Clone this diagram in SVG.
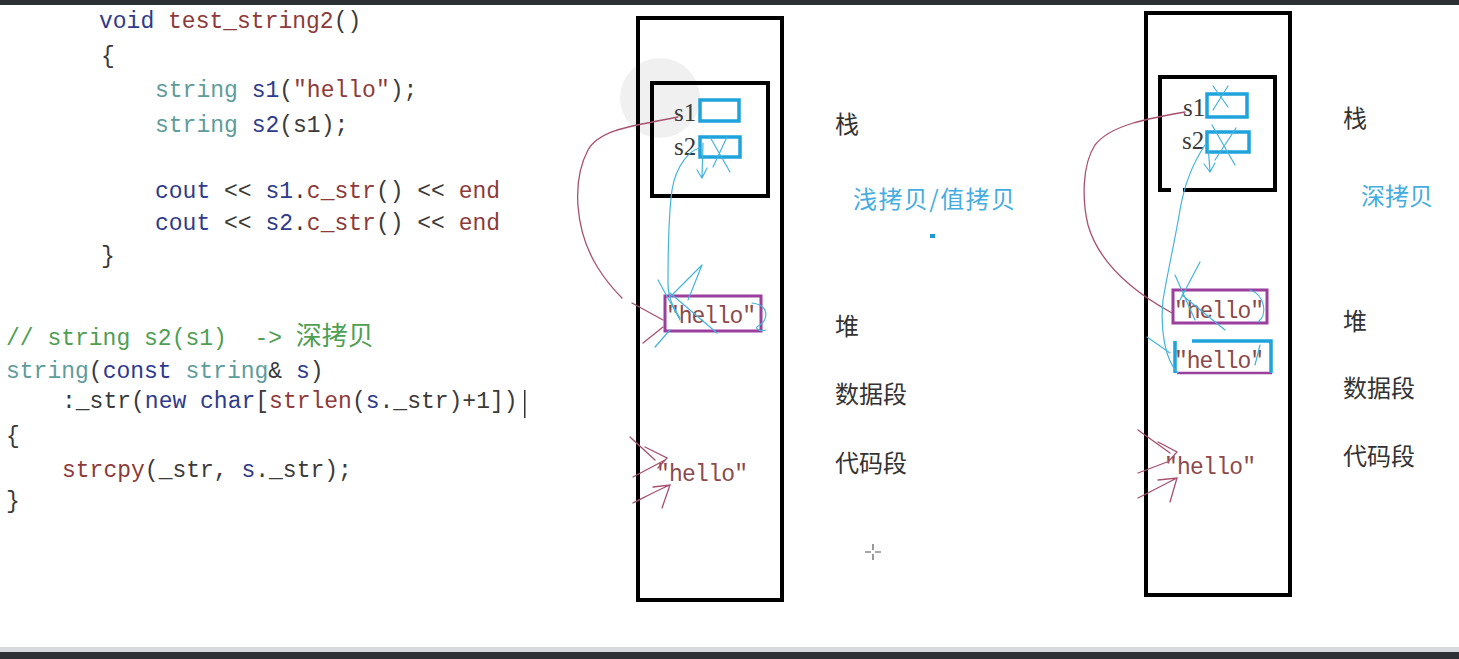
<svg xmlns="http://www.w3.org/2000/svg" width="1459" height="659" viewBox="0 0 1459 659">
<defs>
<style>
.code{font-family:"Liberation Mono","DejaVu Sans Mono",monospace;font-size:23px;fill:#3a3a3a;white-space:pre}
.kw{fill:#2e3a8c}
.fn{fill:#8c3a3a}
.ty{fill:#5e9c9c}
.cm{fill:#4f9e52}
.lbl{font-family:"Noto Sans CJK SC",sans-serif;font-size:24px;fill:#333}
.cy{font-family:"Noto Sans CJK SC",sans-serif;font-size:24px;fill:#45ade0}
.var{font-family:"Liberation Serif","Noto Sans CJK SC",serif;font-size:25px;fill:#3a3a3a}
.str{font-family:"Liberation Mono",monospace;font-size:23px;fill:#8c4a4a}
.frame{fill:none;stroke:#000;stroke-width:4}
.cell{fill:none;stroke:#1fa3dc;stroke-width:3.5}
.heap{fill:none;stroke:#9a3f9e;stroke-width:3}
.mar{fill:none;stroke:#a8506e;stroke-width:1.3;stroke-linecap:round}
.cyl{fill:none;stroke:#44b4dc;stroke-width:1.2;stroke-linecap:round}
</style>
</defs>
<rect width="1459" height="659" fill="#fff"/>
<rect x="0" y="0" width="1459" height="5" fill="#2d3136"/>
<rect x="0" y="647" width="1459" height="5" fill="#d8dbde"/>
<rect x="0" y="652" width="1459" height="7" fill="#2d3136"/>

<g id="code">
<text class="code" x="99" y="28"><tspan class="kw">void</tspan> <tspan class="fn">test_string2</tspan>()</text>
<text class="code" x="101" y="63">{</text>
<text class="code" x="155" y="97"><tspan class="ty">string</tspan> <tspan class="kw">s1</tspan>(<tspan class="fn">"hello"</tspan>);</text>
<text class="code" x="155" y="132"><tspan class="ty">string</tspan> <tspan class="kw">s2</tspan>(s1);</text>
<text class="code" x="155" y="198"><tspan class="kw">cout</tspan> &lt;&lt; <tspan class="kw">s1</tspan>.<tspan class="fn">c_str</tspan>() &lt;&lt; <tspan class="fn">end</tspan></text>
<text class="code" x="155" y="230"><tspan class="kw">cout</tspan> &lt;&lt; <tspan class="kw">s2</tspan>.<tspan class="fn">c_str</tspan>() &lt;&lt; <tspan class="fn">end</tspan></text>
<text class="code" x="101" y="263">}</text>
<text class="code cm" x="6" y="345" xml:space="preserve">// string s2(s1)  -&gt; <tspan font-family="Noto Sans CJK SC,sans-serif" font-size="26">深拷贝</tspan></text>
<text class="code" x="6" y="378"><tspan class="ty">string</tspan>(<tspan class="kw">const</tspan> <tspan class="ty">string</tspan>&amp; <tspan class="kw">s</tspan>)</text>
<text class="code" x="62" y="408">:_str(<tspan class="kw">new</tspan> <tspan class="kw">char</tspan>[<tspan class="fn">strlen</tspan>(<tspan class="kw">s</tspan>._str)+1])</text>
<rect x="524" y="390" width="1.5" height="28" fill="#333"/>
<text class="code" x="6" y="443">{</text>
<text class="code" x="62" y="477"><tspan class="fn">strcpy</tspan>(_str, <tspan class="kw">s</tspan>._str);</text>
<text class="code" x="6" y="508">}</text>
</g>

<g id="left-memory">
<circle cx="660" cy="98" r="40" fill="#000" fill-opacity="0.06"/>
<rect class="frame" x="638" y="18" width="144" height="582"/>
<rect class="frame" x="652" y="83" width="116" height="113"/>
<text class="var" x="674" y="121">s1</text>
<rect class="cell" x="700" y="100" width="39" height="21"/>
<text class="var" x="674" y="155">s2</text>
<rect class="cell" x="700" y="137" width="40" height="20"/>
<rect class="heap" x="665" y="296" width="96" height="35"/>
<text class="str" x="666" y="323" textLength="90">"hello"</text>
<text class="str" x="656" y="481" textLength="92">"hello"</text>
</g>
<g id="left-labels">
<text class="lbl" x="835" y="133">栈</text>
<text class="cy" x="853" y="208" textLength="162">浅拷贝/值拷贝</text>
<rect x="930" y="234" width="5" height="4" fill="#1f9ad6"/>
<text class="lbl" x="835" y="335">堆</text>
<text class="lbl" x="835" y="403">数据段</text>
<text class="lbl" x="835" y="472">代码段</text>
<path d="M873,544 V550 M873,554 V560 M865,552 H871 M875,552 H881" stroke="#555" stroke-width="1.2" fill="none"/>
</g>

<g id="right-memory">
<rect class="frame" x="1146" y="13" width="144" height="582"/>
<path class="frame" d="M1171,190 H1160 V77 H1275 V190 H1183"/>
<text class="var" x="1183" y="116">s1</text>
<rect class="cell" x="1207" y="94" width="40" height="23"/>
<text class="var" x="1182" y="149">s2</text>
<rect class="cell" x="1207" y="132" width="42" height="20"/>
<rect class="heap" x="1173" y="290" width="94" height="33"/>
<text class="str" x="1174" y="318" textLength="90">"hello"</text>
<path d="M1177,373 H1272" fill="none" stroke="#9a3f9e" stroke-width="2.5"/>
<path class="cell" d="M1192,341 H1271 V373 M1175,341 V373"/>
<text class="str" x="1174" y="368" textLength="90">"hello"</text>
<text class="str" x="1164" y="474" textLength="92">"hello"</text>
</g>
<g id="right-labels">
<text class="lbl" x="1343" y="127">栈</text>
<text class="cy" x="1361" y="205">深拷贝</text>
<text class="lbl" x="1343" y="330">堆</text>
<text class="lbl" x="1343" y="397">数据段</text>
<text class="lbl" x="1343" y="465">代码段</text>
</g>

<g id="connectors">
<path class="mar" d="M678,117 C640,125 600,128 588,150 C572,180 574,230 598,268 C608,284 616,292 622,298"/>
<path class="mar" d="M632,303 L663,320 M643,343 L663,327"/>
<path class="mar" d="M630,437 L655,460 M645,447 L667,458 L658,468 M633,477 L665,460 M633,503 C645,497 658,490 670,485 M653,487 L670,485 L662,508"/>
<path class="cyl" d="M700,148 C690,150 676,165 672,190 C668,220 668,260 668,283 C668,300 675,310 680,318"/>
<path class="cyl" d="M703,143 L702,178 M697,170 L702,178 L707,168 M710,137 L730,172 M727,137 L713,167"/>
<path class="cyl" d="M658,280 L680,320 M702,265 L670,297 M702,265 L688,300 M670,293 L717,333 M655,347 L670,330 M752,303 C770,305 768,320 760,325 C752,328 760,332 766,330"/>
<path class="mar" d="M1185,112 C1150,118 1110,125 1095,145 C1082,165 1082,200 1088,225 C1098,260 1130,290 1172,313"/>
<path class="mar" d="M1138,430 L1170,453 M1158,442 L1177,452 L1168,462 M1138,473 L1167,462 M1138,498 C1150,492 1165,484 1177,478 M1158,480 L1177,478 L1170,502"/>
<path class="cyl" d="M1205,145 C1195,160 1185,180 1180,210 C1175,240 1168,270 1163,300 C1160,330 1165,360 1178,373"/>
<path class="cyl" d="M1213,86 L1228,107 M1228,86 L1213,110 M1212,125 L1235,165 M1236,128 L1215,160 M1208,145 L1210,172 M1204,164 L1210,172 L1215,163"/>
<path class="cyl" d="M1175,275 L1195,320 M1200,262 L1180,300 M1182,295 L1225,330 M1147,337 L1170,353 M1250,290 C1265,295 1268,315 1258,322 M1260,345 L1255,365"/>
</g>
</svg>
